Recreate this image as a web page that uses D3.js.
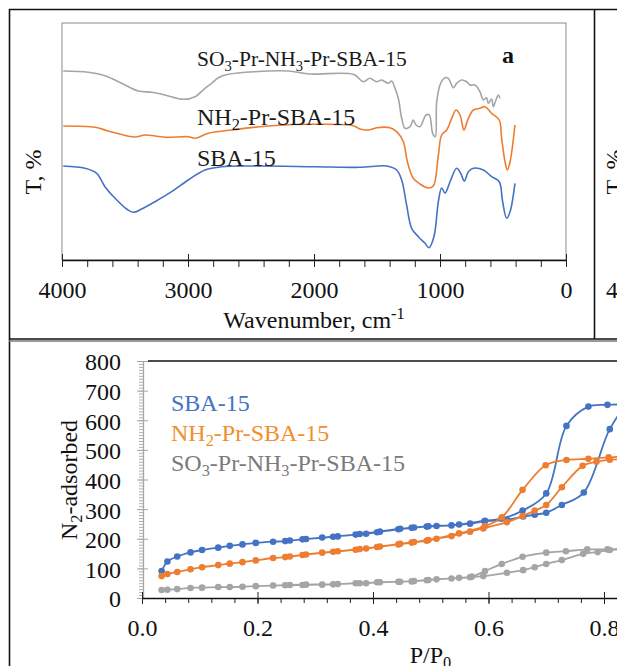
<!DOCTYPE html>
<html><head><meta charset="utf-8">
<script src="https://cdn.jsdelivr.net/npm/d3@7"></script>
<style>
body{margin:0;background:#fff}
svg{display:block}
svg text{font-family:"Liberation Serif","Times New Roman",Tinos,"DejaVu Serif","Noto Serif",serif !important}
</style>
</head><body>
<svg id="c" width="617" height="666"></svg>
<script>
// ---------- FTIR (panel a) ----------
const sbaWn = [3990,3817,3725,3659,3579,3487,3434,3368,3262,3130,2998,2865,2733,2468,1992,1635,1423,1344,1304,1265,1225,1172,1119,1088,1048,1013,987,960,921,868,836,807,775,735,656,590,530,503,471,444,405];
const sbaT  = [94,91.7,86.7,73.3,61.7,51,47.7,51,58.3,68.3,80,90,93.3,94,93.3,92.7,94,90,80,55,31.7,23.3,16.7,12.3,23.3,58.3,72,67,78,91.7,86.7,79,88.3,91.7,90,83.3,78.3,58.3,41.7,48.3,76.7];
const nh2Wn = [3990,3738,3632,3421,3341,3183,2998,2944,2839,2653,2336,1992,1688,1635,1569,1503,1397,1344,1291,1259,1212,1159,1093,1053,1013,987,947,907,873,841,810,775,735,683,643,590,530,511,484,466,444,405];
const nh2T  = [134,132.7,129,123,125,122.7,123.3,121.7,126.7,130,134.3,135.7,134.3,131,130,132.3,132.3,128.3,118.3,98.3,81.7,76,72,74,105,125,130,141.7,150,145,130,141.7,150,151.7,153.3,146.7,140,121.7,98.3,90,98.3,135];
const so3Wn = [3990,3791,3659,3526,3394,3288,3183,3037,2944,2865,2812,2759,2680,2468,2204,2032,1688,1608,1556,1503,1463,1410,1384,1357,1331,1304,1278,1238,1212,1190,1159,1111,1085,1058,1037,1026,995,960,934,894,868,828,788,762,722,683,656,630,617,590,577,556,537,524];
const so3T  = [189,187.7,184.3,176.7,169,167.7,165,160.7,163.3,171.7,176.7,182.3,185.7,188.3,189,186,185.7,178.3,181.7,178.3,180,176.7,179,171.7,161.7,141.7,131.7,133.3,140,135,133.3,145,145,126.7,123.3,158.3,176.7,182.3,181.7,172.3,176.7,180,178.3,175,175,168.3,160,162.3,156.7,161,153.3,160,165,161.7];
const wnTicks = [4000,3000,2000,1000,0];

// ---------- N2 isotherms ----------
const sbaAdsP = [0.034,0.044,0.061,0.084,0.104,0.132,0.152,0.174,0.197,0.227,0.248,0.278,0.312,0.331,0.370,0.388,0.407,0.444,0.467,0.493,0.510,0.536,0.568,0.593,0.632,0.660,0.680,0.700,0.727,0.765,0.810,0.840];
const sbaAdsV = [91,123,140,154,162,170,176,181,186,190,192,198,204,207,214,217,222,232,237,241,243,245,251,259,264,275,281,288,314,356,570,650];
const sbaDesP = [0.850,0.806,0.773,0.735,0.700,0.659,0.623,0.594,0.549,0.496,0.471,0.447,0.412,0.377,0.339,0.284,0.256];
const sbaDesV = [655,652,646,581,353,295,268,261,248,242,238,234,224,216,208,199,194];
const nh2AdsP = [0.034,0.044,0.061,0.084,0.104,0.132,0.152,0.174,0.197,0.227,0.248,0.278,0.312,0.331,0.370,0.388,0.407,0.444,0.467,0.493,0.510,0.536,0.568,0.591,0.632,0.659,0.680,0.700,0.727,0.763,0.787,0.810,0.840];
const nh2AdsV = [74,81,88,97,104,111,116,121,127,135,138,145,153,156,163,167,172,181,187,193,200,209,224,235,256,277,295,314,374,446,460,467,470];
const nh2DesP = [0.850,0.808,0.773,0.735,0.699,0.659,0.623,0.594,0.549,0.496,0.471,0.447,0.412,0.377,0.339,0.284,0.256];
const nh2DesV = [477,475,470,466,448,365,272,243,218,196,189,183,174,165,158,147,140];
const so3AdsP = [0.034,0.044,0.061,0.084,0.104,0.132,0.152,0.174,0.197,0.227,0.248,0.278,0.312,0.331,0.370,0.388,0.407,0.444,0.467,0.493,0.510,0.536,0.568,0.591,0.632,0.660,0.680,0.700,0.727,0.764,0.789,0.810,0.840];
const so3AdsV = [27,28,30,34,35,37,37,38,40,42,43,44,45,46,50,50,53,55,56,60,63,66,70,74,85,94,104,115,128,149,155,162,166];
const so3DesP = [0.850,0.806,0.771,0.734,0.700,0.659,0.623,0.594,0.571,0.549,0.496,0.471,0.447,0.412,0.377,0.339,0.284,0.256];
const so3DesV = [170,164,164,158,153,139,115,91,72,68,61,57,55,53,50,47,45,44];
const pTicks = [0,0.2,0.4,0.6,0.8,1.0];
const vTicks = [0,100,200,300,400,500,600,700,800];

const BLUE = "#4472C4", ORANGE = "#ED7D31", GRAY = "#A5A5A5";
const FS = 24;

const svg = d3.select("#c");
svg.append("rect").attr("width",617).attr("height",666).attr("fill","#fff");

function rich(sel, parts, fs){
  let shift = 0;
  parts.forEach(p=>{
    const t = sel.append("tspan").text(p.t);
    let target = 0;
    if(p.sub){ t.attr("font-size", fs*0.68); target = fs*0.22; }
    else if(p.sup){ t.attr("font-size", fs*0.68); target = -fs*0.38; }
    t.attr("dy", target - shift);
    shift = target;
  });
}

// ---------- frames ----------
const fr = svg.append("g").attr("stroke","#111").attr("stroke-width",1.6).attr("fill","none");
fr.append("line").attr("x1",9).attr("x2",617).attr("y1",9.5).attr("y2",9.5);
fr.append("line").attr("x1",9).attr("x2",617).attr("y1",339).attr("y2",339);
fr.append("line").attr("x1",9.5).attr("x2",9.5).attr("y1",9).attr("y2",666);
fr.append("line").attr("x1",594.5).attr("x2",594.5).attr("y1",9).attr("y2",339);
svg.append("line").attr("x1",9).attr("x2",617).attr("y1",341).attr("y2",341).attr("stroke","#777").attr("stroke-width",1.4);

// ---------- panel a ----------
const x1 = d3.scaleLinear().domain([4000,0]).range([62,566]);
const y1 = d3.scaleLinear().domain([0,237]).range([260,23]);
svg.append("rect").attr("x",62).attr("y",23).attr("width",504).attr("height",237)
  .attr("fill","none").attr("stroke","#8a8a8a").attr("stroke-width",1);

const lineA = d3.line().x(d=>x1(d[0])).y(d=>y1(d[1])).curve(d3.curveCatmullRom.alpha(0.5));
[[so3Wn,so3T,GRAY],[nh2Wn,nh2T,ORANGE],[sbaWn,sbaT,BLUE]].forEach(([w,t,c])=>{
  svg.append("path").attr("d", lineA(d3.zip(w,t))).attr("fill","none").attr("stroke",c).attr("stroke-width",1.6);
});

const ax1m = svg.append("g").attr("transform","translate(0,260)")
  .call(d3.axisBottom(x1).tickValues(d3.range(0,4001,200)).tickSize(7).tickFormat(""));
ax1m.select(".domain").remove();
ax1m.selectAll("line").attr("stroke","#222");
const ax1 = svg.append("g").attr("transform","translate(0,260)")
  .call(d3.axisBottom(x1).tickValues(wnTicks).tickSize(7).tickSizeOuter(0).tickFormat(d3.format("d")));
ax1.select(".domain").attr("stroke","#111").attr("stroke-width",1.3);
ax1.selectAll(".tick line").attr("y1",-6).attr("stroke","#222");
ax1.selectAll("text").attr("font-size",FS).attr("fill","#111").attr("y",38).attr("dy",0);

const ta = svg.append("g").attr("fill","#1a1a1a");
rich(ta.append("text").attr("x",197).attr("y",66).attr("font-size",21.5), [{t:"SO"},{t:"3",sub:1},{t:"-Pr-NH"},{t:"3",sub:1},{t:"-Pr-SBA-15"}], 21.5);
rich(ta.append("text").attr("x",197).attr("y",125).attr("font-size",24), [{t:"NH"},{t:"2",sub:1},{t:"-Pr-SBA-15"}], 24);
ta.append("text").attr("x",197).attr("y",166).attr("font-size",24).text("SBA-15");
svg.append("text").attr("x",502).attr("y",63).attr("font-size",24).attr("font-weight","bold").attr("fill","#111").text("a");
svg.append("text").attr("transform","translate(41,172) rotate(-90)").attr("text-anchor","middle")
  .attr("font-size",FS).attr("fill","#111").text("T, %");
rich(svg.append("text").attr("x",314).attr("y",328).attr("text-anchor","middle").attr("font-size",FS).attr("fill","#111"),
  [{t:"Wavenumber, cm"},{t:"-1",sup:1}], FS);

// partial neighbouring panel (cropped in the original)
svg.append("text").attr("transform","translate(622,172) rotate(-90)").attr("text-anchor","middle")
  .attr("font-size",FS).attr("fill","#111").text("T, %");
svg.append("text").attr("x",606).attr("y",298).attr("font-size",FS).attr("fill","#111").text("4000");

// ---------- isotherm panel ----------
const x2 = d3.scaleLinear().domain([0,1]).range([142,719.5]);
const y2 = d3.scaleLinear().domain([0,800]).range([598,361]);

svg.append("line").attr("x1",148).attr("x2",617).attr("y1",361).attr("y2",361).attr("stroke","#111").attr("stroke-width",1.5);

const ay2m = svg.append("g").attr("transform","translate(143,0)")
  .call(d3.axisLeft(y2).tickValues(d3.range(0,801,10)).tickSize(4).tickFormat(""));
ay2m.select(".domain").remove();
ay2m.selectAll("line").attr("stroke","#b0b0b0");
const ay2 = svg.append("g").attr("transform","translate(143,0)")
  .call(d3.axisLeft(y2).tickValues(vTicks).tickSize(6).tickSizeOuter(0).tickFormat(d3.format("d")));
ay2.select(".domain").attr("stroke","#a6a6a6").attr("stroke-width",1.3);
ay2.selectAll(".tick line").attr("x2",5).attr("x1",-6).attr("stroke","#a6a6a6");
ay2.selectAll("text").attr("font-size",FS).attr("fill","#111").attr("x",-22).attr("dy","0.37em");

const ax2m = svg.append("g").attr("transform","translate(0,598)")
  .call(d3.axisBottom(x2).tickValues(d3.range(0,26).map(i=>i*0.04)).tickSize(5).tickFormat(""));
ax2m.select(".domain").remove();
ax2m.selectAll("line").attr("stroke","#222");
const ax2 = svg.append("g").attr("transform","translate(0,598)")
  .call(d3.axisBottom(x2).tickValues(pTicks).tickSize(6).tickSizeOuter(0).tickFormat(d3.format(".1f")));
ax2.select(".domain").attr("stroke","#111").attr("stroke-width",1.5);
ax2.selectAll(".tick line").attr("y1",-6).attr("stroke","#222");
ax2.selectAll("text").attr("font-size",FS).attr("fill","#111").attr("y",38).attr("dy",0);

const lineB = d3.line().x(d=>x2(d[0])).y(d=>y2(d[1])).curve(d3.curveCatmullRom.alpha(0.5));
const iso = [
  [sbaAdsP,sbaAdsV,sbaDesP,sbaDesV,BLUE],
  [nh2AdsP,nh2AdsV,nh2DesP,nh2DesV,ORANGE],
  [so3AdsP,so3AdsV,so3DesP,so3DesV,GRAY]
];
iso.forEach(([ap,av,dp,dv,c])=>{
  const pts = d3.zip(ap,av).concat(d3.zip(dp,dv));
  svg.append("path").attr("d", lineB(pts)).attr("fill","none").attr("stroke",c).attr("stroke-width",1.8);
  svg.append("g").selectAll("circle").data(pts).join("circle")
    .attr("cx",d=>x2(d[0])).attr("cy",d=>y2(d[1])).attr("r",3.3).attr("fill",c);
});

const lg = svg.append("g").attr("font-size",24);
lg.append("text").attr("x",171).attr("y",411).attr("fill",BLUE).text("SBA-15");
rich(lg.append("text").attr("x",171).attr("y",441).attr("fill","#F28E2B"), [{t:"NH"},{t:"2",sub:1},{t:"-Pr-SBA-15"}], 24);
rich(lg.append("text").attr("x",171).attr("y",471).attr("fill","#7a7a7a"), [{t:"SO"},{t:"3",sub:1},{t:"-Pr-NH"},{t:"3",sub:1},{t:"-Pr-SBA-15"}], 24);

rich(svg.append("text").attr("transform","translate(77,480) rotate(-90)").attr("text-anchor","middle").attr("font-size",FS).attr("fill","#111"),
  [{t:"N"},{t:"2",sub:1},{t:"-adsorbed"}], FS);
rich(svg.append("text").attr("x",430.5).attr("y",663).attr("text-anchor","middle").attr("font-size",FS).attr("fill","#111"),
  [{t:"P/P"},{t:"0",sub:1}], FS);
</script>
</body></html>
